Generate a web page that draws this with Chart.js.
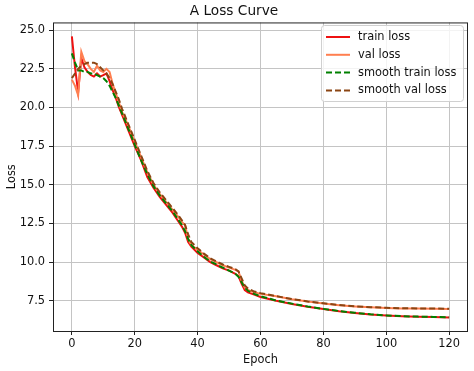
<!DOCTYPE html>
<html>
<head>
<meta charset="utf-8">
<script src="https://cdn.jsdelivr.net/npm/chart.js@4.4.1/dist/chart.umd.min.js"></script>
<style>
  html, body { margin: 0; padding: 0; background: #fff; }
  #wrap { width: 474px; height: 371px; }
</style>
</head>
<body>
<div id="wrap"><canvas id="lossChart" width="474" height="371"></canvas></div>
<script>
const epochs = [0, 1, 2, 3, 4, 5, 6, 7, 8, 9, 10, 11, 12, 13, 14, 15, 16, 18, 20, 22, 24, 26, 28, 30, 32, 34, 35, 36, 37, 38,
  40, 42, 44, 46, 48, 50, 52, 53, 54, 55, 56, 58, 60, 65, 70, 75, 80, 85, 90, 95, 100, 105, 110, 115, 120];

const trainLoss = [24.6, 22.6, 21.0, 23.2, 22.6, 22.3, 22.1, 22.0, 22.2, 22.0, 22.1, 22.2, 21.7, 21.1, 20.6, 20.0, 19.5,
  18.5, 17.5, 16.6, 15.5, 14.8, 14.2, 13.7, 13.2, 12.6, 12.3, 11.9, 11.3, 11.0,
  10.6, 10.3, 10.0, 9.8, 9.6, 9.45, 9.25, 9.1, 8.6, 8.2, 8.05, 7.9, 7.75,
  7.5, 7.3, 7.12, 6.97, 6.83, 6.72, 6.62, 6.55, 6.5, 6.47, 6.45, 6.43];

const valLoss = [21.8, 21.4, 20.8, 23.6, 23.0, 22.8, 22.5, 22.3, 22.7, 22.4, 22.3, 22.5, 22.3, 21.5, 20.9, 20.3, 19.7,
  18.8, 17.8, 16.8, 15.8, 15.0, 14.4, 13.9, 13.4, 12.9, 12.6, 12.4, 11.5, 11.1,
  10.8, 10.5, 10.2, 10.0, 9.8, 9.65, 9.5, 9.4, 8.8, 8.35, 8.2, 8.05, 7.95,
  7.8, 7.6, 7.45, 7.33, 7.22, 7.14, 7.08, 7.04, 7.01, 7.0, 6.99, 6.98];

const smoothTrain = [23.5, 22.9, 22.4, 22.4, 22.3, 22.3, 22.2, 22.2, 22.1, 22.0, 21.9, 21.7, 21.4, 21.0, 20.6, 20.1, 19.6,
  18.6, 17.6, 16.6, 15.7, 14.9, 14.3, 13.8, 13.3, 12.7, 12.4, 12.0, 11.5, 11.1,
  10.7, 10.35, 10.05, 9.85, 9.65, 9.45, 9.25, 9.05, 8.7, 8.35, 8.15, 7.95, 7.8,
  7.52, 7.32, 7.13, 6.98, 6.84, 6.73, 6.63, 6.56, 6.51, 6.48, 6.46, 6.44];

const smoothVal = [21.9, 22.2, 22.5, 22.7, 22.8, 22.9, 22.9, 22.9, 22.8, 22.6, 22.4, 22.2, 21.9, 21.5, 21.0, 20.5, 19.9,
  18.9, 17.9, 16.9, 15.9, 15.1, 14.5, 14.0, 13.5, 13.0, 12.7, 12.4, 11.8, 11.3,
  10.9, 10.55, 10.25, 10.05, 9.85, 9.7, 9.55, 9.4, 8.95, 8.5, 8.3, 8.1, 8.0,
  7.8, 7.62, 7.46, 7.34, 7.23, 7.15, 7.09, 7.05, 7.02, 7.01, 7.0, 6.99];

const xTicks = [0, 20, 40, 60, 80, 100, 120];
const yTicks = [7.5, 10.0, 12.5, 15.0, 17.5, 20.0, 22.5, 25.0];

const FONT = 'DejaVu Sans';
const TEXT = '#111';

function pts(ys) {
  return epochs.map((e, i) => ({ x: e, y: ys[i] }));
}

// matplotlib style: frame on all four sides + legend box inside the axes
const framePlugin = {
  id: 'frame',
  afterDraw(chart) {
    const { ctx, chartArea: a } = chart;
    ctx.save();
    ctx.strokeStyle = '#222';
    ctx.lineWidth = 1;
    ctx.strokeRect(a.left + 0.5, a.top + 0.5, a.right - a.left - 1, a.bottom - a.top);

    // legend
    const x0 = 321, y0 = 25, w = 142, h = 76;
    ctx.fillStyle = 'rgba(255,255,255,0.8)';
    ctx.strokeStyle = '#d0d0d0';
    ctx.beginPath();
    ctx.roundRect(x0 + 0.5, y0 + 0.5, w, h, 3);
    ctx.fill();
    ctx.stroke();
    ctx.font = '11.4px "' + FONT + '"';
    ctx.textBaseline = 'middle';
    ctx.fillStyle = TEXT;
    chart.data.datasets.forEach((ds, i) => {
      const yy = y0 + 12 + i * 17.8;
      ctx.strokeStyle = ds.borderColor;
      ctx.lineWidth = ds.borderWidth;
      ctx.setLineDash(ds.borderDash || []);
      ctx.beginPath();
      ctx.moveTo(x0 + 5, yy);
      ctx.lineTo(x0 + 29, yy);
      ctx.stroke();
      ctx.setLineDash([]);
      ctx.fillStyle = TEXT;
      ctx.fillText(ds.label, x0 + 37, yy);
    });
    ctx.restore();
  }
};

new Chart(document.getElementById('lossChart'), {
  type: 'line',
  data: {
    datasets: [
      { label: 'train loss', data: pts(trainLoss), borderColor: '#ee1111', borderWidth: 2, order: 4 },
      { label: 'val loss', data: pts(valLoss), borderColor: '#ff7f50', borderWidth: 2, order: 3 },
      { label: 'smooth train loss', data: pts(smoothTrain), borderColor: '#008000', borderWidth: 2, borderDash: [6, 3], order: 2 },
      { label: 'smooth val loss', data: pts(smoothVal), borderColor: '#8b4513', borderWidth: 2, borderDash: [6, 3], order: 1 }
    ]
  },
  options: {
    responsive: false,
    animation: false,
    devicePixelRatio: 1,
    elements: { point: { radius: 0 }, line: { tension: 0, fill: false } },
    layout: { padding: { left: 0, right: 6, top: 0, bottom: 0 } },
    plugins: {
      legend: { display: false },
      tooltip: { enabled: false },
      title: {
        display: true,
        text: 'A Loss Curve',
        color: TEXT,
        font: { family: FONT, size: 13.7, weight: 'normal' },
        padding: { top: 3, bottom: 3 }
      }
    },
    scales: {
      x: {
        type: 'linear',
        min: -6,
        max: 126,
        afterBuildTicks: (axis) => { axis.ticks = xTicks.map(v => ({ value: v })); },
        afterFit: (axis) => { axis.height = 40; },
        grid: { color: '#c4c4c4', lineWidth: 1, tickColor: '#222', tickLength: 4 },
        border: { display: false },
        ticks: { color: TEXT, font: { family: FONT, size: 11.4 }, padding: 2, maxRotation: 0 },
        title: { display: true, text: 'Epoch', color: TEXT, font: { family: FONT, size: 11.4 }, padding: { top: 0, bottom: 4 } }
      },
      y: {
        min: 5.55,
        max: 25.5,
        afterBuildTicks: (axis) => { axis.ticks = yTicks.map(v => ({ value: v })); },
        afterFit: (axis) => { axis.width = 53; },
        grid: { color: '#c4c4c4', lineWidth: 1, tickColor: '#222', tickLength: 4 },
        border: { display: false },
        ticks: { color: TEXT, font: { family: FONT, size: 11.4 }, padding: 4, callback: (v) => v.toFixed(1) },
        title: { display: true, text: 'Loss', color: TEXT, font: { family: FONT, size: 11.4 }, padding: { top: 5, bottom: 0 } }
      }
    }
  },
  plugins: [framePlugin]
});
</script>
</body>
</html>
